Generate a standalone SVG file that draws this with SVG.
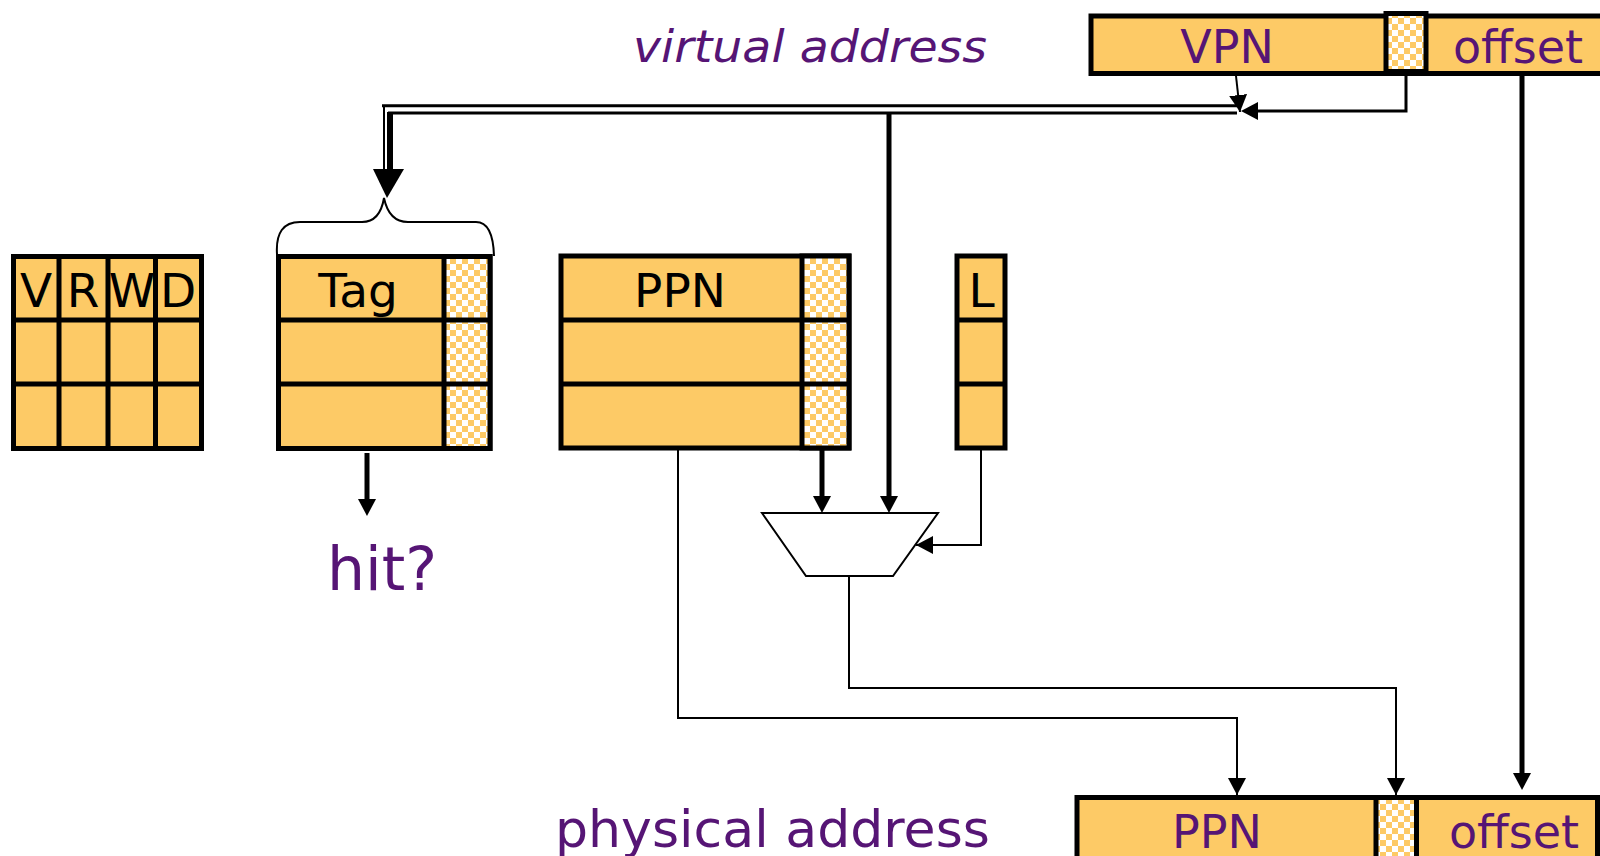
<svg xmlns="http://www.w3.org/2000/svg" width="1600" height="856" viewBox="0 0 1600 856">
  <defs>
    <pattern id="chk" width="12" height="12" patternUnits="userSpaceOnUse">
      <rect width="12" height="12" fill="#ffffff"/>
      <rect x="0" y="0" width="6" height="6" fill="#FDCA66"/>
      <rect x="6" y="6" width="6" height="6" fill="#FDCA66"/>
    </pattern>
    <marker id="ah" markerWidth="17" markerHeight="18" viewBox="0 0 17 18" refX="17" refY="9" orient="auto" markerUnits="userSpaceOnUse">
      <path d="M0,0 L17,9 L0,18 Z" fill="#000"/>
    </marker>
    <marker id="ahk" markerWidth="17" markerHeight="18" viewBox="0 0 17 18" refX="9" refY="9" orient="auto" markerUnits="userSpaceOnUse">
      <path d="M0,0 L17,9 L0,18 Z" fill="#000"/>
    </marker>
  </defs>
  <style>
    .cell { fill: #FDCA66; stroke: #000; stroke-width: 5; }
    .chk { fill: url(#chk); stroke: #000; stroke-width: 5; }
    .grid { stroke: #000; stroke-width: 5; fill: none; }
    .lbl { font-family: "DejaVu Sans", Verdana, sans-serif; font-size: 47px; fill: #000; text-anchor: middle; }
    .plbl { font-family: "DejaVu Sans", Verdana, sans-serif; font-size: 46px; fill: #561575; text-anchor: middle; }
    .thin { stroke: #000; stroke-width: 2; fill: none; }
    .thick { stroke: #000; stroke-width: 5; fill: none; }
    .mid { stroke: #000; stroke-width: 3; fill: none; }
  </style>

  <rect width="1600" height="856" fill="#ffffff"/>

  <g id="virtual-address">
    <text x="633" y="62" font-family="DejaVu Sans, Verdana, sans-serif" font-style="italic" font-size="45" fill="#561575" textLength="354" lengthAdjust="spacingAndGlyphs">virtual address</text>
    <rect class="cell" x="1091" y="16" width="520" height="57.5"/>
    <rect class="chk" x="1386" y="13.5" width="40" height="58"/>
    <text class="plbl" x="1227" y="63">VPN</text>
    <text class="plbl" x="1518" y="63">offset</text>
  </g>

  <g id="vrwd-table">
    <rect class="cell" x="13.5" y="256.5" width="188" height="192"/>
    <path class="grid" d="M13.5,320 H201.5 M13.5,384 H201.5 M59,256.5 V448.5 M108,256.5 V448.5 M155.5,256.5 V448.5"/>
    <text class="lbl" x="36" y="307">V</text>
    <text class="lbl" x="83" y="307">R</text>
    <text class="lbl" x="132" y="307">W</text>
    <text class="lbl" x="178" y="307">D</text>
  </g>

  <g id="tag-table">
    <rect class="cell" x="278.5" y="256.5" width="211.5" height="192"/>
    <rect class="chk" x="444" y="256.5" width="46" height="192"/>
    <path class="grid" d="M278.5,320 H490 M278.5,384 H490"/>
    <text class="lbl" x="358" y="307">Tag</text>
  </g>

  <g id="ppn-table">
    <rect class="cell" x="561" y="256" width="288" height="192"/>
    <rect class="chk" x="802" y="256" width="47" height="192"/>
    <path class="grid" d="M561,320 H849 M561,384 H849"/>
    <text class="lbl" x="680" y="307">PPN</text>
  </g>

  <g id="l-table">
    <rect class="cell" x="957" y="256" width="48" height="192"/>
    <path class="grid" d="M957,320 H1005 M957,384 H1005"/>
    <text class="lbl" x="981.5" y="307">L</text>
  </g>

  <g id="brace">
    <path class="thin" d="M277,254 Q275,222 300,222 L362,222 Q380,222 384,198 Q389,222 408,222 L476,222 Q493,222 494,256"/>
  </g>

  <g id="mux">
    <polygon points="762,513 938,513 893,576 806,576" fill="#ffffff" stroke="#000" stroke-width="2"/>
  </g>

  <g id="hit-label">
    <text x="382" y="590" font-family="DejaVu Sans, Verdana, sans-serif" font-size="60" fill="#561575" text-anchor="middle">hit?</text>
  </g>

  <g id="physical-address">
    <text x="555" y="847" font-family="DejaVu Sans, Verdana, sans-serif" font-size="52" fill="#561575" textLength="435" lengthAdjust="spacingAndGlyphs">physical address</text>
    <rect class="cell" x="1077" y="797.5" width="520.5" height="80"/>
    <rect class="chk" x="1376" y="797.5" width="40.5" height="80"/>
    <text class="plbl" x="1217" y="848">PPN</text>
    <text class="plbl" x="1514" y="848">offset</text>
  </g>

  <g id="connectors">
    <!-- VPN to bus -->
    <line x1="1236" y1="76" x2="1240" y2="112" stroke="#000" stroke-width="2" marker-end="url(#ah)"/>
    <!-- checker bit to bus -->
    <path class="mid" d="M1406,76 V111 H1249" stroke-width="4" marker-end="url(#ahk)"/>
    <!-- double bus -->
    <path class="mid" d="M382,105.7 H1237"/>
    <path class="mid" d="M388,113 H1237"/>
    <!-- double vertical down to tag compare -->
    <line x1="384" y1="105" x2="384" y2="172" stroke="#000" stroke-width="2"/>
    <line x1="390" y1="112" x2="390" y2="172" stroke="#000" stroke-width="6"/>
    <polygon points="373,169 404,169 387,198" fill="#000"/>
    <!-- bus to mux -->
    <line class="thick" x1="889" y1="112" x2="889" y2="505" marker-end="url(#ahk)"/>
    <!-- PPN checker to mux -->
    <line class="thick" x1="822" y1="450" x2="822" y2="505" marker-end="url(#ahk)"/>
    <!-- L to mux -->
    <path class="thin" d="M981,450 V545 H916" marker-end="url(#ah)"/>
    <!-- hit arrow -->
    <line class="thick" x1="367" y1="453" x2="367" y2="508" marker-end="url(#ahk)"/>
    <!-- PPN to physical PPN -->
    <path class="thin" d="M678,450 V718 H1237 V795" marker-end="url(#ah)"/>
    <!-- mux to physical checker -->
    <path class="thin" d="M849,576 V688 H1396 V795" marker-end="url(#ah)"/>
    <!-- offset -->
    <line class="thick" x1="1522" y1="76" x2="1522" y2="782" marker-end="url(#ahk)"/>
  </g>
</svg>
